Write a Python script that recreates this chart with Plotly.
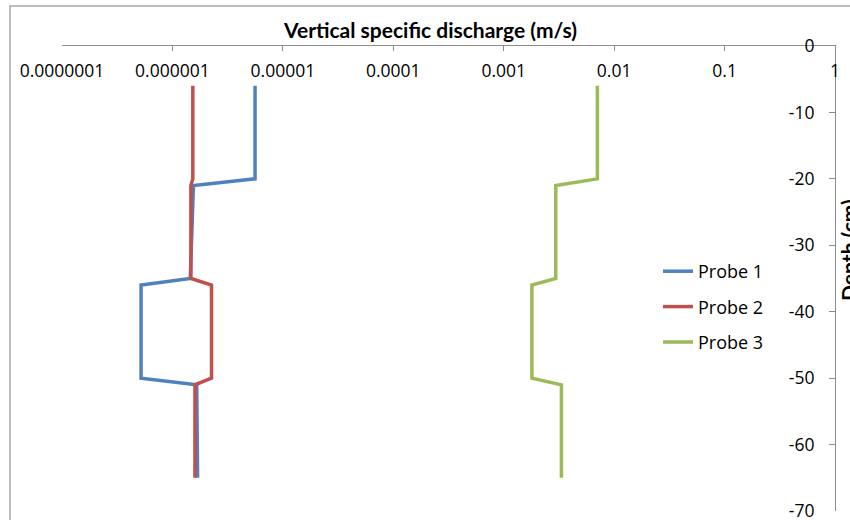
import plotly.graph_objects as go

# Depth values (cm) shared by all probes
depth = [-6, -20, -21, -35, -36, -50, -51, -65]

# Vertical specific discharge (m/s) per probe
probe1 = [5.6e-6, 5.6e-6, 1.55e-6, 1.45e-6, 5.2e-7, 5.2e-7, 1.66e-6, 1.69e-6]
probe2 = [1.53e-6, 1.53e-6, 1.47e-6, 1.47e-6, 2.26e-6, 2.26e-6, 1.6e-6, 1.6e-6]
probe3 = [7.05e-3, 7.05e-3, 2.96e-3, 2.96e-3, 1.8e-3, 1.8e-3, 3.33e-3, 3.33e-3]

series_names = ["Probe 1", "Probe 2", "Probe 3"]
series_colors = ["#4F81BD", "#C0504D", "#9BBB59"]

x_tickvals = [1e-7, 1e-6, 1e-5, 1e-4, 1e-3, 1e-2, 1e-1, 1]
x_ticktext = ["0.0000001", "0.000001", "0.00001", "0.0001", "0.001", "0.01", "0.1", "1"]
y_tickvals = [0, -10, -20, -30, -40, -50, -60, -70]
y_ticktext = ["0", "-10", "-20", "-30", "-40", "-50", "-60", "-70"]

FONT = "Open Sans"
TITLE_FONT = "Lato"
AXIS_GRAY = "#8c8c8c"

fig = go.Figure()
for i, (name, vals, col) in enumerate(zip(series_names, [probe1, probe2, probe3], series_colors)):
    fig.add_trace(go.Scatter(
        x=vals, y=depth, mode="lines", name=name, legendgroup=f"g{i}",
        line=dict(color=col, width=3.5),
    ))

W, H = 850, 520
L, R, T, B = 62, 15, 46, 9
pw = W - L - R
ph = H - T - B

fig.update_layout(
    width=W, height=H,
    margin=dict(l=L, r=R, t=T, b=B, pad=0, autoexpand=False),
    paper_bgcolor="white", plot_bgcolor="white",
    font=dict(family=FONT, size=17, color="#000000"),
    showlegend=True,
    legend=dict(
        x=(658 - L) / pw, y=(511 - 253) / ph, xanchor="left", yanchor="top",
        font=dict(family=FONT, size=18, color="#000000"),
        bgcolor="rgba(0,0,0,0)", tracegroupgap=9, itemwidth=30,
    ),
    xaxis=dict(
        type="log", range=[-7, 0], side="top", automargin=False,
        tickvals=x_tickvals, ticktext=x_ticktext,
        ticks="inside", ticklen=5, tickcolor=AXIS_GRAY,
        ticklabelposition="inside", ticklabeloverflow="allow", ticklabelstandoff=14,
        showline=True, linecolor=AXIS_GRAY, linewidth=1,
        showgrid=False, zeroline=False,
        tickfont=dict(family=FONT, size=17.5, color="#000000"),
    ),
    yaxis=dict(
        range=[-70, 0], side="right", automargin=False,
        tickvals=y_tickvals, ticktext=y_ticktext,
        ticks="inside", ticklen=6, tickcolor=AXIS_GRAY,
        ticklabelposition="inside", ticklabeloverflow="allow", ticklabelstandoff=15,
        showline=True, linecolor=AXIS_GRAY, linewidth=1,
        showgrid=False, zeroline=False,
        tickfont=dict(family=FONT, size=17.5, color="#000000"),
    ),
    annotations=[
        dict(text="<b>Vertical specific discharge (m/s)</b>", xref="paper", yref="paper",
             x=(430 - L) / pw, y=(511 - 30) / ph, xanchor="center", yanchor="middle",
             showarrow=False, font=dict(family=TITLE_FONT, size=21, color="#000000")),
        dict(text="<b>Depth (cm)</b>", xref="paper", yref="paper",
             x=(848 - L) / pw, y=(511 - 250) / ph, xanchor="center", yanchor="middle",
             textangle=-90, showarrow=False, font=dict(family=TITLE_FONT, size=21, color="#000000")),
    ],
    shapes=[
        dict(type="rect", xref="paper", yref="paper", layer="below",
             x0=(10 - L) / pw, x1=1.5, y0=-0.5, y1=(511 - 6) / ph,
             line=dict(color="#a6a6a6", width=1.5), fillcolor="rgba(0,0,0,0)"),
    ],
)

fig.write_html("out.html")
